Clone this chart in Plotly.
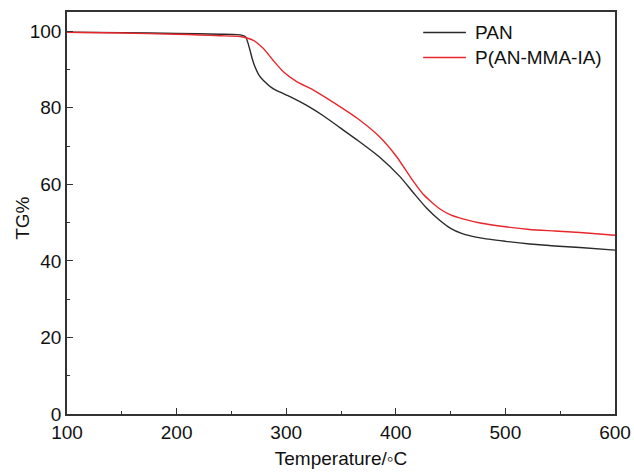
import plotly.graph_objects as go

# Thermogravimetric curves (weight remaining, %) vs temperature (°C)
pan_temp = [100, 150, 200, 240, 255, 260, 263, 265, 267, 269, 271.5, 275, 279, 288, 295,
            303.5, 318.7, 333.8, 349, 366, 385.6, 403.8, 416, 428, 440, 450, 460, 477, 500,
            522, 545, 568, 600]
pan_tg = [99.7, 99.6, 99.4, 99.2, 99.1, 98.9, 98.5, 97.0, 95.0, 92.8, 90.7, 88.6, 87.2, 85.0, 84.0,
          82.9, 80.6, 77.9, 74.8, 71.3, 67.0, 62.0, 57.8, 53.8, 50.6, 48.5, 47.2, 46.0, 45.1,
          44.4, 43.9, 43.5, 42.8]

copo_temp = [100, 150, 200, 221, 240, 258, 270, 279, 288, 297.4, 309.6, 324.8, 343, 366,
             385.6, 400.8, 413, 425, 440, 450, 462, 477, 500, 522, 545, 568, 600]
copo_tg = [99.7, 99.5, 99.2, 99.0, 98.8, 98.6, 97.6, 95.5, 92.4, 89.4, 86.8, 84.6, 81.4, 77.0,
           72.3, 67.2, 62.0, 57.4, 53.6, 52.0, 50.9, 49.9, 48.9, 48.2, 47.8, 47.4, 46.7]

series_names = ["PAN", "P(AN-MMA-IA)"]
series_colors = ["#2a2a2a", "#e8262b"]

x_ticks = [100, 200, 300, 400, 500, 600]
y_ticks = [0, 20, 40, 60, 80, 100]

FONT = "Liberation Sans, Arial, sans-serif"
TXT = "#111"

fig = go.Figure()
for t, v, name, color in [(pan_temp, pan_tg, series_names[0], series_colors[0]),
                          (copo_temp, copo_tg, series_names[1], series_colors[1])]:
    fig.add_trace(go.Scatter(x=t, y=v, mode="lines", name=name,
                             line=dict(color=color, width=1.4, shape="spline", smoothing=0.6),
                             showlegend=False))

# Legend drawn as short line samples with labels in the upper right
leg_x0, leg_x1, leg_text_x = 0.650, 0.728, 0.741
leg_rows = [0.949, 0.887]
for name, color, yy in zip(series_names, series_colors, leg_rows):
    fig.add_shape(type="line", xref="paper", yref="paper", x0=leg_x0, x1=leg_x1, y0=yy, y1=yy,
                  line=dict(color=color, width=1.4))
    fig.add_annotation(xref="paper", yref="paper", x=leg_text_x, y=yy, text=name,
                       showarrow=False, xanchor="left", yanchor="middle",
                       font=dict(family=FONT, size=19, color=TXT))

# Vertical axis title
fig.add_annotation(xref="paper", yref="paper", x=-0.081, y=0.487, text="TG%", textangle=-90,
                   showarrow=False, xanchor="center", yanchor="middle",
                   font=dict(family=FONT, size=19, color=TXT))

axis_common = dict(showline=True, linecolor="#333", linewidth=1.6, mirror=True,
                   ticks="inside", ticklen=6, tickwidth=1.4, tickcolor="#333",
                   showgrid=False, zeroline=False, automargin=False,
                   tickfont=dict(family=FONT, size=19, color=TXT))

fig.update_xaxes(range=[100, 600], tickvals=x_ticks,
                 minor=dict(ticks="inside", ticklen=3, tickwidth=1.2, tickcolor="#333", dtick=50),
                 title=dict(text="Temperature/\u25e6C", font=dict(family=FONT, size=19, color=TXT),
                            standoff=10),
                 **axis_common)
fig.update_yaxes(range=[0, 105], tickvals=y_ticks,
                 minor=dict(ticks="inside", ticklen=3, tickwidth=1.2, tickcolor="#333", dtick=10),
                 **axis_common)

fig.update_layout(width=634, height=472, paper_bgcolor="white", plot_bgcolor="white",
                  margin=dict(l=67, r=19, t=12, b=58), showlegend=False)

fig.write_html("out.html")
